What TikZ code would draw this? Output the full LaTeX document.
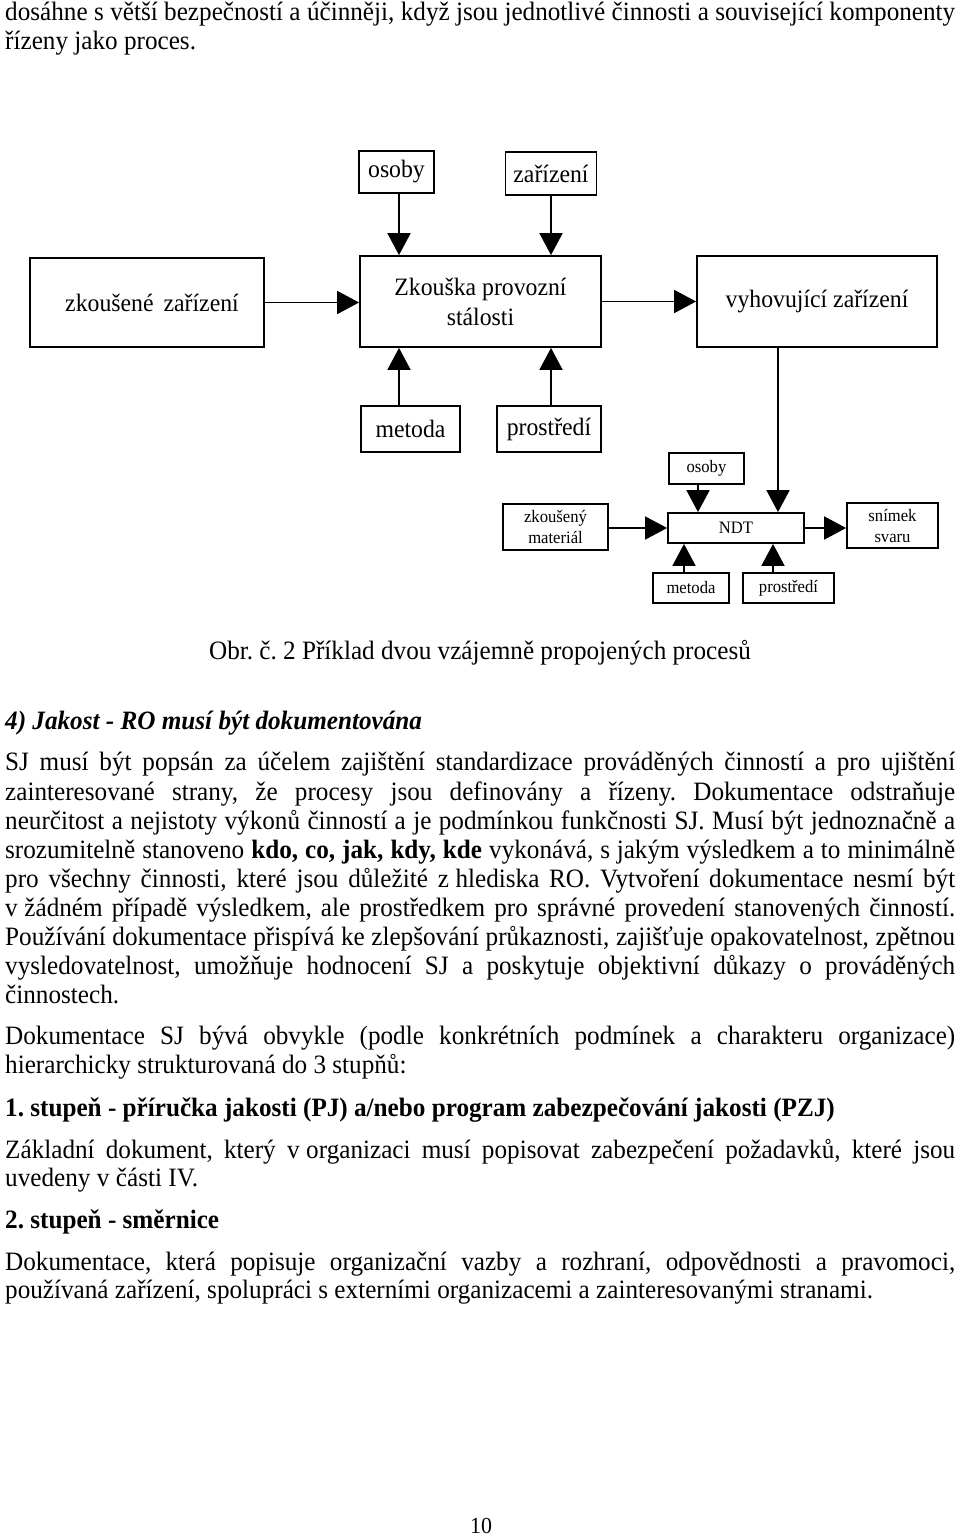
\documentclass[tikz,border=0pt]{standalone}
\usepackage{fontspec}
\setmainfont{Liberation Serif}[FakeStretch=0.95]
\usetikzlibrary{arrows.meta,calc}
\newcommand\ns{\hspace{0.25em}}
\frenchspacing
\tikzset{
 box/.style={draw, line width=1.8pt, inner sep=0pt, align=center, font=\fontsize{25}{30}\selectfont},
 sbox/.style={box, font=\fontsize{17.5}{21}\selectfont},
 arr/.style={line width=1.8pt, -{Triangle[length=22pt,width=23pt]}},
 jl/.style={anchor=base west, inner sep=0pt, font=\fontsize{26.5}{29}\selectfont},
}
\newcommand\jline[3]{\node[jl] (#1) at (5,#2) {\hbox to 950pt{#3}};}
\newcommand\nline[3]{\node[jl] (#1) at (5,#2) {#3};}
\begin{document}
\begin{tikzpicture}[x=1pt,y=-1pt]
\fill[white] (0,0) rectangle (960,1537);
\useasboundingbox (0,0) rectangle (960,1537);

% ---- text above ----
\jline{t1}{20}{dosáhne s větší bezpečností a účinněji, když jsou jednotlivé činnosti a související komponenty}
\nline{t2}{49}{řízeny jako proces.}

% ---- upper process ----
\node[box, minimum width=75pt, minimum height=42pt] (tos) at (396.5,172) {osoby};
\node[box, minimum width=91pt, minimum height=43pt] (tza) at (551,173.5) {zařízení};
\node[box, minimum width=234pt, minimum height=89pt] (zkz) at (147,302.5) {\hspace{10pt}zkoušené\hspace{0.4em}zařízení};
\node[box, minimum width=241pt, minimum height=91pt] (zps) at (480.5,301.5) {Zkouška provozní\\stálosti};
\node[box, minimum width=240pt, minimum height=91pt] (vyh) at (817,301.5) {vyhovující zařízení};
\node[box, minimum width=99pt, minimum height=46pt] (met) at (410.5,429) {metoda};
\node[box, minimum width=104pt, minimum height=46pt] (pro) at (549,429) {prostředí};

\coordinate (ax1) at ($(tos.south)+(2.5,0)$);
\draw[arr] (ax1) -- (ax1 |- zps.north);
\draw[arr] (tza.south) -- (tza.south |- zps.north);
\draw[arr] (met.north -| ax1) -- (zps.south -| ax1);
\draw[arr] (pro.north -| tza.south) -- (zps.south -| tza.south);
\draw[arr] (zkz.east) -- (zkz.east -| zps.west);
\draw[arr] (zps.east) -- (zps.east -| vyh.west);

% ---- lower process ----
\node[sbox, minimum width=75pt, minimum height=31pt] (bos) at (706.5,468.5) {osoby};
\node[sbox, minimum width=105pt, minimum height=46pt] (zm) at (555.5,527) {zkoušený\\materiál};
\node[sbox, minimum width=136pt, minimum height=30pt] (ndt) at (736,528) {NDT};
\node[sbox, minimum width=91pt, minimum height=45pt] (sn) at (892.5,525.5) {snímek\\svaru};
\node[sbox, minimum width=76pt, minimum height=30pt] (bmet) at (691,588) {metoda};
\node[sbox, minimum width=91pt, minimum height=30pt] (bpro) at (788.5,588) {prostředí};

\coordinate (bx1) at ($(bos.south)+(-8.5,0)$);
\draw[arr] (bx1) -- (bx1 |- ndt.north);
\coordinate (vl) at ($(vyh.south)+(-39,0)$);
\draw[arr] (vl) -- (vl |- ndt.north);
\coordinate (bx2) at ($(bmet.north)+(-7,0)$);
\draw[arr] (bx2) -- (bx2 |- ndt.south);
\coordinate (bx3) at ($(bpro.north)+(-15.5,0)$);
\draw[arr] (bx3) -- (bx3 |- ndt.south);
\draw[arr] (zm.east |- ndt.east) -- (ndt.west);
\draw[arr] (ndt.east) -- (ndt.east -| sn.west);

% ---- caption ----
\node[anchor=base, inner sep=0pt, font=\fontsize{26.5}{29}\selectfont] (cap) at (480,659) {Obr. č. 2 Příklad dvou vzájemně propojených procesů};

% ---- body text ----
\node[jl, font=\fontsize{26.5}{29}\selectfont\bfseries\itshape] (h4) at (5,729) {4) Jakost - RO musí být dokumentována};
\jline{p1}{770}{SJ musí být popsán za účelem zajištění standardizace prováděných činností a pro ujištění}
\jline{p2}{800}{zainteresované strany, že procesy jsou definovány a řízeny. Dokumentace odstraňuje}
\jline{p3}{829}{neurčitost a nejistoty výkonů činností a je podmínkou funkčnosti SJ. Musí být jednoznačně a}
\jline{p4}{858}{srozumitelně stanoveno \textbf{kdo, co, jak, kdy, kde} vykonává, s\ns jakým výsledkem a to minimálně}
\jline{p5}{887}{pro všechny činnosti, které jsou důležité z\ns hlediska RO. Vytvoření dokumentace nesmí být}
\jline{p6}{916}{v\ns žádném případě výsledkem, ale prostředkem pro správné provedení stanovených činností.}
\jline{p7}{945}{Používání dokumentace přispívá ke zlepšování průkaznosti, zajišťuje opakovatelnost, zpětnou}
\jline{p8}{974}{vysledovatelnost, umožňuje hodnocení SJ a poskytuje objektivní důkazy o prováděných}
\nline{p9}{1003}{činnostech.}

\jline{q1}{1044}{Dokumentace SJ bývá obvykle (podle konkrétních podmínek a charakteru organizace)}
\nline{q2}{1073}{hierarchicky strukturovaná do 3 stupňů:}

\nline{s1}{1116}{\bfseries 1. stupeň - příručka jakosti (PJ) a/nebo program zabezpečování jakosti (PZJ)}
\jline{s2}{1158}{Základní dokument, který v\ns organizaci musí popisovat zabezpečení požadavků, které jsou}
\nline{s3}{1186}{uvedeny v\ns části IV.}

\nline{r1}{1228}{\bfseries 2. stupeň - směrnice}
\jline{r2}{1270}{Dokumentace, která popisuje organizační vazby a rozhraní, odpovědnosti a pravomoci,}
\nline{r3}{1298}{používaná zařízení, spolupráci s externími organizacemi a zainteresovanými stranami.}

\node[anchor=base, inner sep=0pt, font=\fontsize{23}{26}\selectfont] (pg) at (481,1533) {10};
\end{tikzpicture}
\end{document}
